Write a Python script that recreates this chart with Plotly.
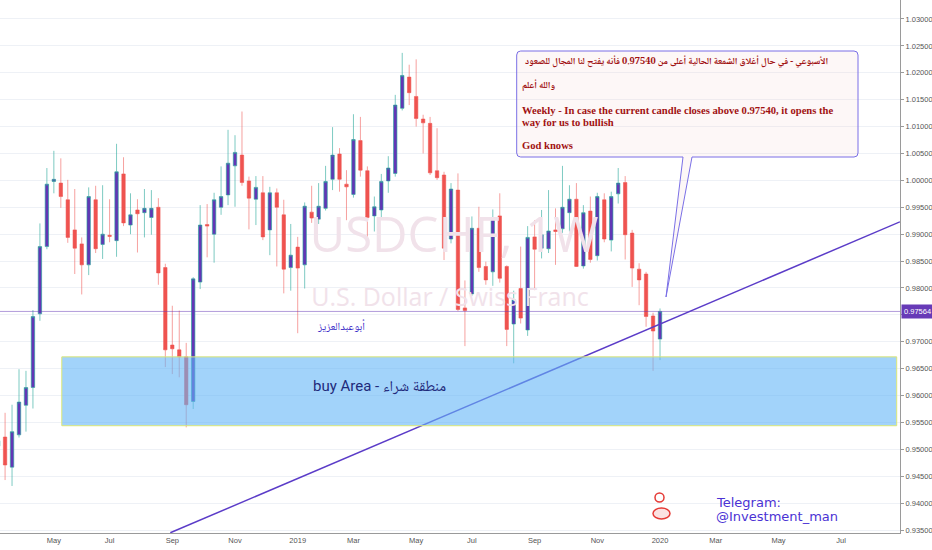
import plotly.graph_objects as go
import pandas as pd

# ---------------- data ----------------
week_start = "2018-03-05"
opens = [0.9506, 0.9523, 0.9467, 0.9527, 0.9582, 0.9615, 0.9752, 0.9877, 0.9998, 0.9995,
         0.9964, 0.9908, 0.9882, 0.9843, 0.9964, 0.9881, 0.9898, 0.9888, 1.0012, 0.9917,
         0.9945, 0.9940, 0.9931, 0.9950, 0.9838, 0.9694, 0.9685, 0.9672, 0.9589, 0.9811,
         0.9918, 0.9900, 0.9950, 0.9973, 1.0027, 1.0047, 0.9999, 0.9965, 0.9977, 0.9908,
         0.9977, 0.9936, 0.9838, 0.9876, 0.9843, 0.9941, 0.9928, 0.9948, 1.0002, 1.0049,
         0.9993, 0.9974, 1.0074, 1.0018, 0.9934, 0.9945, 0.9999, 1.0013, 1.0134, 1.0192,
         1.0156, 1.0114, 1.0106, 1.0018, 1.0010, 0.9891, 0.9982, 0.9763, 0.9789, 0.9911,
         0.9840, 0.9830, 0.9934, 0.9840, 0.9733, 0.9799, 0.9722, 0.9895, 0.9874, 0.9873,
         0.9908, 0.9910, 0.9940, 0.9965, 0.9841, 0.9943, 0.9860, 0.9964, 0.9889, 0.9975,
         0.9996, 0.9902, 0.9835, 0.9826, 0.9748, 0.9705]
highs = [0.9530, 0.9568, 0.9583, 0.9649, 0.9646, 0.9759, 0.9920, 1.0023, 1.0055, 1.0041,
         1.0001, 0.9984, 0.9894, 0.9987, 0.9990, 0.9991, 0.9965, 1.0068, 1.0043, 0.9976,
         0.9965, 0.9984, 0.9982, 0.9967, 0.9845, 0.9767, 0.9758, 0.9698, 0.9820, 0.9954,
         0.9956, 0.9977, 1.0026, 1.0094, 1.0084, 1.0128, 1.0007, 1.0008, 1.0008, 0.9988,
         0.9985, 0.9964, 0.9919, 0.9895, 0.9959, 0.9990, 0.9995, 1.0027, 1.0099, 1.0060,
         1.0019, 1.0123, 1.0118, 1.0026, 0.9970, 1.0012, 1.0045, 1.0159, 1.0237, 1.0215,
         1.0225, 1.0122, 1.0118, 1.0097, 1.0016, 0.9995, 1.0013, 0.9814, 0.9933, 0.9951,
         0.9849, 0.9946, 0.9976, 0.9842, 0.9795, 0.9877, 0.9915, 0.9926, 0.9945, 0.9982,
         0.9948, 1.0027, 0.9991, 0.9995, 0.9954, 0.9970, 0.9977, 0.9976, 0.9979, 1.0023,
         1.0008, 0.9908, 0.9846, 0.9830, 0.9754, 0.9762]
lows = [0.9495, 0.9443, 0.9432, 0.9522, 0.9533, 0.9576, 0.9739, 0.9872, 0.9976, 0.9949,
        0.9884, 0.9826, 0.9788, 0.9824, 0.9865, 0.9854, 0.9885, 0.9858, 0.9915, 0.9900,
        0.9866, 0.9894, 0.9899, 0.9806, 0.9653, 0.9640, 0.9634, 0.9541, 0.9575, 0.9798,
        0.9857, 0.9847, 0.9936, 0.9954, 0.9951, 0.9990, 0.9909, 0.9917, 0.9889, 0.9861,
        0.9840, 0.9790, 0.9795, 0.9716, 0.9799, 0.9921, 0.9919, 0.9944, 0.9982, 0.9979,
        0.9926, 0.9968, 1.0007, 0.9895, 0.9905, 0.9930, 0.9977, 1.0007, 1.0130, 1.0140,
        1.0100, 1.0050, 1.0010, 1.0001, 0.9852, 0.9883, 0.9757, 0.9692, 0.9785, 0.9830,
        0.9806, 0.9804, 0.9810, 0.9692, 0.9660, 0.9734, 0.9711, 0.9796, 0.9855, 0.9865,
        0.9843, 0.9902, 0.9905, 0.9839, 0.9836, 0.9847, 0.9851, 0.9885, 0.9868, 0.9957,
        0.9853, 0.9802, 0.9768, 0.9728, 0.9646, 0.9666]
closes = [0.9516, 0.9471, 0.9533, 0.9588, 0.9615, 0.9747, 0.9877, 0.9993, 1.0002, 0.9970,
          0.9894, 0.9874, 0.9843, 0.9970, 0.9873, 0.9900, 0.9896, 1.0016, 0.9921, 0.9936,
          0.9938, 0.9948, 0.9948, 0.9828, 0.9685, 0.9687, 0.9672, 0.9583, 0.9817, 0.9917,
          0.9915, 0.9964, 0.9970, 1.0032, 1.0052, 0.9996, 0.9967, 0.9987, 0.9895, 0.9977,
          0.9950, 0.9835, 0.9861, 0.9837, 0.9952, 0.9930, 0.9952, 0.9998, 1.0047, 1.0002,
          0.9988, 1.0076, 1.0019, 0.9931, 0.9951, 0.9998, 1.0023, 1.0140, 1.0195, 1.0163,
          1.0115, 1.0107, 1.0014, 1.0005, 0.9874, 0.9984, 0.9760, 0.9758, 0.9911, 0.9838,
          0.9815, 0.9931, 0.9818, 0.9723, 0.9778, 0.9744, 0.9894, 0.9872, 0.9899, 0.9906,
          0.9905, 0.9950, 0.9965, 0.9840, 0.9940, 0.9853, 0.9970, 0.9891, 0.9970, 0.9995,
          0.9899, 0.9837, 0.9815, 0.9747, 0.9720, 0.97564]
dates = pd.date_range(week_start, periods=len(opens), freq="7D")

tick_dates = ["2018-04-30", "2018-06-25", "2018-08-27", "2018-10-29", "2018-12-31",
              "2019-02-25", "2019-04-29", "2019-06-24", "2019-08-26", "2019-10-28",
              "2019-12-30", "2020-02-24", "2020-04-27", "2020-06-29"]
tick_labels = ["May", "Jul", "Sep", "Nov", "2019", "Mar", "May", "Jul", "Sep", "Nov",
               "2020", "Mar", "May", "Jul"]

x_range = ["2018-03-06 21:36", "2020-08-27 02:24"]
y_range = [0.93446, 1.03353]

last_price = 0.97564
zone_top, zone_bottom = 0.9672, 0.9544
zone_start, zone_end = "2018-05-08", "2020-08-23 19:00"
trend_dates = ["2018-08-25", "2020-08-27"]
trend_prices = [0.9345, 0.9923]

wm_dates = ["2019-06-06", "2019-06-02"]
wm_prices = [0.98892, 0.97777]
wm_texts = ["USDCHF, 1W", "U.S. Dollar / Swiss Franc"]

# ---------------- figure ----------------
W, H = 932, 550
ML, MR, MT, MB = 0, 32, 0, 17
PW, PH = W - ML - MR, H - MT - MB


def px(x):
    return (x - ML) / PW


def py(y):
    return 1 - (y - MT) / PH


fig = go.Figure()

# watermark (behind candles)
fig.add_trace(go.Scatter(
    x=[wm_dates[0]], y=[wm_prices[0]], mode="text", text=[wm_texts[0]],
    textfont=dict(size=49, color="#f1e2ea", family="Open Sans"),
    hoverinfo="skip", showlegend=False))
fig.add_trace(go.Scatter(
    x=[wm_dates[1]], y=[wm_prices[1]], mode="text", text=[wm_texts[1]],
    textfont=dict(size=25, color="#f1e2ea", family="Open Sans"),
    hoverinfo="skip", showlegend=False))

fig.add_trace(go.Candlestick(
    x=dates, open=opens, high=highs, low=lows, close=closes,
    increasing=dict(fillcolor="#6236b6", line=dict(color="rgba(38,166,154,0.6)", width=1)),
    decreasing=dict(fillcolor="#ef5350", line=dict(color="rgba(239,83,80,0.55)", width=1)),
    showlegend=False, hoverinfo="skip"))

# last price line
fig.add_trace(go.Scatter(
    x=x_range, y=[last_price, last_price], mode="lines",
    line=dict(color="rgba(103,58,183,0.5)", width=1),
    hoverinfo="skip", showlegend=False))

# trend line
fig.add_trace(go.Scatter(
    x=trend_dates, y=trend_prices, mode="lines",
    line=dict(color="#5b3cc8", width=1.5),
    hoverinfo="skip", showlegend=False))

shapes = []
# buy zone
shapes.append(dict(type="rect", xref="x", yref="y", x0=zone_start, x1=zone_end,
                   y0=zone_bottom, y1=zone_top,
                   fillcolor="rgba(100,181,246,0.6)",
                   line=dict(color="#dce775", width=1), layer="above"))

# callout box
L_, R_, T_, B_ = 516.7, 858, 51, 157
r = 4
path = (f"M {px(L_ + r)},{py(T_)} L {px(R_ - r)},{py(T_)} "
        f"Q {px(R_)},{py(T_)} {px(R_)},{py(T_ + r)} "
        f"L {px(R_)},{py(B_ - r)} Q {px(R_)},{py(B_)} {px(R_ - r)},{py(B_)} "
        f"L {px(692)},{py(B_)} L {px(666)},{py(297)} L {px(683)},{py(B_)} "
        f"L {px(L_ + r)},{py(B_)} Q {px(L_)},{py(B_)} {px(L_)},{py(B_ - r)} "
        f"L {px(L_)},{py(T_ + r)} Q {px(L_)},{py(T_)} {px(L_ + r)},{py(T_)} Z")
shapes.append(dict(type="path", xref="paper", yref="paper", path=path,
                   fillcolor="rgba(245,215,215,0.2)",
                   line=dict(color="#7a6fe6", width=1), layer="above"))

# small logo approximation
shapes.append(dict(type="circle", xref="paper", yref="paper",
                   x0=px(655), x1=px(664), y0=py(502), y1=py(493),
                   line=dict(color="#e53935", width=1.5)))
shapes.append(dict(type="circle", xref="paper", yref="paper",
                   x0=px(653), x1=px(670), y0=py(519), y1=py(508),
                   line=dict(color="#e53935", width=1.5), fillcolor="rgba(229,57,53,0.15)"))

annotations = []
red = "#a11212"
serif = "Liberation Serif, DejaVu Serif"
arabic = "Noto Naskh Arabic, Noto Sans Arabic, DejaVu Sans"
RLE, PDF = "\u202b", "\u202c"

annotations.append(dict(xref="paper", yref="paper", x=px(830), y=py(62),
                        xanchor="right", yanchor="middle", showarrow=False,
                        text="<b>" + RLE + "الأسبوعي - في حال أغلاق الشمعة الحالية أعلى من 0.97540 فأنه يفتح لنا المجال للصعود" + PDF + "</b>",
                        font=dict(family=arabic, size=9.4, color=red)))
annotations.append(dict(xref="paper", yref="paper", x=px(520), y=py(86),
                        xanchor="left", yanchor="middle", showarrow=False,
                        text="<b>" + RLE + "والله أعلم" + PDF + "</b>",
                        font=dict(family=arabic, size=9.4, color=red)))
en_lines = [
    ("Weekly - In case the current candle closes above 0.97540, it opens the", 110),
    ("way for us to bullish", 122),
    ("God knows", 145),
]
for txt, yy in en_lines:
    annotations.append(dict(xref="paper", yref="paper", x=px(520), y=py(yy),
                            xanchor="left", yanchor="middle", showarrow=False,
                            text=f"<b>{txt}</b>",
                            font=dict(family=serif, size=10.6, color=red)))

annotations.append(dict(xref="paper", yref="paper", x=px(341), y=py(327),
                        xanchor="center", yanchor="middle", showarrow=False,
                        text="أبوعبدالعزيز",
                        font=dict(family=arabic, size=11, color="#3a2cc8")))
annotations.append(dict(xref="paper", yref="paper", x=px(311), y=py(386),
                        xanchor="left", yanchor="middle", showarrow=False,
                        text="buy Area - منطقة شراء",
                        font=dict(family="Roboto, " + arabic, size=15, color="#1f2a7a")))
annotations.append(dict(xref="paper", yref="paper", x=px(714), y=py(502),
                        xanchor="left", yanchor="middle", showarrow=False,
                        text="Telegram:",
                        font=dict(family="DejaVu Sans", size=13, color="#4a32d4")))
annotations.append(dict(xref="paper", yref="paper", x=px(714), y=py(516),
                        xanchor="left", yanchor="middle", showarrow=False,
                        text="@Investment_man",
                        font=dict(family="DejaVu Sans", size=13, color="#4a32d4")))
# price label on axis
annotations.append(dict(xref="paper", yref="y", x=1, y=last_price,
                        xanchor="left", yanchor="middle", showarrow=False,
                        text="0.97564", bgcolor="#673ab7", borderpad=2,
                        xshift=1,
                        font=dict(family="Liberation Sans", size=7.5, color="white")))

fig.update_layout(
    width=W, height=H,
    margin=dict(l=ML, r=MR, t=MT, b=MB),
    paper_bgcolor="white", plot_bgcolor="white",
    showlegend=False,
    shapes=shapes, annotations=annotations,
    xaxis=dict(type="date", range=x_range, rangeslider=dict(visible=False),
               tickmode="array", tickvals=tick_dates, ticktext=tick_labels,
               showgrid=False, zeroline=False, automargin=False,
               showline=True, linecolor="#9a9a9a", linewidth=1,
               ticks="", tickfont=dict(family="Liberation Sans", size=7.5, color="#555")),
    yaxis=dict(side="right", range=y_range, dtick=0.005, tick0=0.935,
               tickformat=".5f", showgrid=True, gridcolor="#eef1f6", gridwidth=1,
               zeroline=False, showline=True, linecolor="#9a9a9a", linewidth=1,
               automargin=False,
               ticks="outside", ticklen=3, tickcolor="#9a9a9a",
               tickfont=dict(family="Liberation Sans", size=7.5, color="#555")),
)

fig.write_html("out.html", config={"displayModeBar": False},
               post_script="document.body.style.margin='0';")
